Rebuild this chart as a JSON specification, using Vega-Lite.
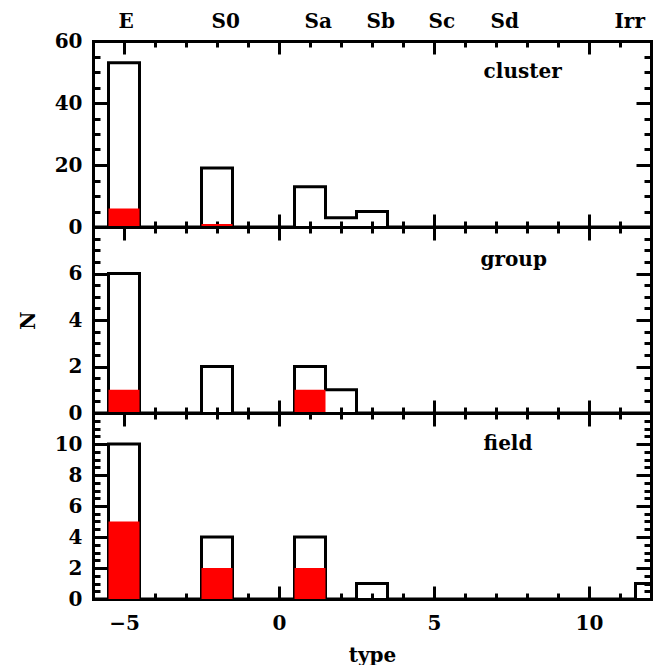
{
  "$schema": "https://vega.github.io/schema/vega-lite/v6.json",
  "background": "white",
  "padding": {"left": 18, "top": 11, "right": 5, "bottom": 0},
  "spacing": 0,
  "bounds": "flush",
  "config": {
    "view": {"stroke": null},
    "axis": {
      "domainColor": "black", "domainWidth": 3, "domainCap": "square",
      "tickColor": "black", "tickWidth": 3, "grid": false, "ticks": true,
      "labelFont": "DejaVu Serif", "labelFontWeight": "bold", "labelFontSize": 20, "labelColor": "black",
      "titleFont": "DejaVu Serif", "titleFontWeight": "bold", "titleFontSize": 20, "titleColor": "black",
      "labelOverlap": false, "labelFlush": false, "zindex": 1
    }
  },
  "datasets": {
    "cluster": [
      {"type": -6, "n": 0, "red": 0}, {"type": -5, "n": 53, "red": 6}, {"type": -4, "n": 0, "red": 0},
      {"type": -3, "n": 0, "red": 0}, {"type": -2, "n": 19, "red": 1}, {"type": -1, "n": 0, "red": 0},
      {"type": 0, "n": 0, "red": 0}, {"type": 1, "n": 13, "red": 0}, {"type": 2, "n": 3, "red": 0},
      {"type": 3, "n": 5, "red": 0}, {"type": 4, "n": 0, "red": 0}, {"type": 5, "n": 0, "red": 0},
      {"type": 6, "n": 0, "red": 0}, {"type": 7, "n": 0, "red": 0}, {"type": 8, "n": 0, "red": 0},
      {"type": 9, "n": 0, "red": 0}, {"type": 10, "n": 0, "red": 0}, {"type": 11, "n": 0, "red": 0},
      {"type": 12, "n": 0, "red": 0}
    ],
    "group": [
      {"type": -6, "n": 0, "red": 0}, {"type": -5, "n": 6, "red": 1}, {"type": -4, "n": 0, "red": 0},
      {"type": -3, "n": 0, "red": 0}, {"type": -2, "n": 2, "red": 0}, {"type": -1, "n": 0, "red": 0},
      {"type": 0, "n": 0, "red": 0}, {"type": 1, "n": 2, "red": 1}, {"type": 2, "n": 1, "red": 0},
      {"type": 3, "n": 0, "red": 0}, {"type": 4, "n": 0, "red": 0}, {"type": 5, "n": 0, "red": 0},
      {"type": 6, "n": 0, "red": 0}, {"type": 7, "n": 0, "red": 0}, {"type": 8, "n": 0, "red": 0},
      {"type": 9, "n": 0, "red": 0}, {"type": 10, "n": 0, "red": 0}, {"type": 11, "n": 0, "red": 0},
      {"type": 12, "n": 0, "red": 0}
    ],
    "field": [
      {"type": -6, "n": 0, "red": 0}, {"type": -5, "n": 10, "red": 5}, {"type": -4, "n": 0, "red": 0},
      {"type": -3, "n": 0, "red": 0}, {"type": -2, "n": 4, "red": 2}, {"type": -1, "n": 0, "red": 0},
      {"type": 0, "n": 0, "red": 0}, {"type": 1, "n": 4, "red": 2}, {"type": 2, "n": 0, "red": 0},
      {"type": 3, "n": 1, "red": 0}, {"type": 4, "n": 0, "red": 0}, {"type": 5, "n": 0, "red": 0},
      {"type": 6, "n": 0, "red": 0}, {"type": 7, "n": 0, "red": 0}, {"type": 8, "n": 0, "red": 0},
      {"type": 9, "n": 0, "red": 0}, {"type": 10, "n": 0, "red": 0}, {"type": 11, "n": 0, "red": 0},
      {"type": 12, "n": 1, "red": 0}
    ]
  },
  "vconcat": [
    {
      "width": 558, "height": 186,
      "data": {"name": "cluster"},
      "layer": [
        {
          "mark": {"type": "line", "interpolate": "step", "color": "black", "strokeWidth": 3, "clip": true},
          "encoding": {
            "x": {"field": "type", "type": "quantitative", "scale": {"domain": [-6, 12], "nice": false, "zero": false},
              "axis": {"orient": "bottom", "values": [-6,-5,-4,-3,-2,-1,0,1,2,3,4,5,6,7,8,9,10,11,12],
                "tickSize": {"condition": {"test": "datum.value % 5 === 0", "value": -13}, "value": -6},
                "labels": false, "title": null}},
            "y": {"field": "n", "type": "quantitative", "scale": {"domain": [0, 60], "nice": false},
              "axis": {"orient": "left", "values": [0,5,10,15,20,25,30,35,40,45,50,55,60],
                "tickSize": {"condition": {"test": "datum.value % 20 === 0", "value": -15}, "value": -7},
                "labelExpr": "datum.value % 20 === 0 ? format(datum.value, 'd') : ''", "labelPadding": 26, "labelBaseline": "middle", "title": null}}
          }
        },
        {
          "mark": {"type": "area", "interpolate": "step", "color": "#ff0000", "clip": true},
          "encoding": {
            "x": {"field": "type", "type": "quantitative",
              "axis": {"orient": "top", "values": [-6,-5,-4,-3,-2,-1,0,1,2,3,4,5,6,7,8,9,10,11,12],
                "tickSize": {"condition": {"test": "datum.value % 5 === 0", "value": -13}, "value": -6},
                "labelExpr": "datum.value === -5 ? 'E' : datum.value === -2 ? 'S0' : datum.value === 1 ? 'Sa' : datum.value === 3 ? 'Sb' : datum.value === 5 ? 'Sc' : datum.value === 7 ? 'Sd' : datum.value === 11 ? 'Irr' : ''",
                "labelAlign": "left", "labelOffset": -6, "labelBaseline": "bottom",
                "labelPadding": {"condition": {"test": "datum.value % 5 === 0", "value": 23}, "value": 16},
                "title": null}},
            "y": {"field": "red", "type": "quantitative",
              "axis": {"orient": "right", "values": [0,5,10,15,20,25,30,35,40,45,50,55,60],
                "tickSize": {"condition": {"test": "datum.value % 20 === 0", "value": -15}, "value": -7},
                "labels": false, "title": null}}
          }
        },
        {
          "data": {"values": [{"label": "cluster"}]},
          "mark": {"type": "text", "align": "left", "baseline": "middle", "font": "DejaVu Serif", "fontWeight": "bold", "fontSize": 20, "color": "black"},
          "encoding": {
            "text": {"field": "label"},
            "x": {"datum": 6.6, "axis": null},
            "y": {"datum": 50, "axis": null}
          }
        }
      ]
    },
    {
      "width": 558, "height": 186,
      "data": {"name": "group"},
      "layer": [
        {
          "mark": {"type": "line", "interpolate": "step", "color": "black", "strokeWidth": 3, "clip": true},
          "encoding": {
            "x": {"field": "type", "type": "quantitative", "scale": {"domain": [-6, 12], "nice": false, "zero": false},
              "axis": {"orient": "bottom", "values": [-6,-5,-4,-3,-2,-1,0,1,2,3,4,5,6,7,8,9,10,11,12],
                "tickSize": {"condition": {"test": "datum.value % 5 === 0", "value": -13}, "value": -6},
                "labels": false, "title": null}},
            "y": {"field": "n", "type": "quantitative", "scale": {"domain": [0, 8], "nice": false},
              "axis": {"orient": "left", "values": [0,0.5,1,1.5,2,2.5,3,3.5,4,4.5,5,5.5,6,6.5,7,7.5,8],
                "tickSize": {"condition": {"test": "datum.value % 2 === 0", "value": -15}, "value": -7},
                "labelExpr": "datum.value % 2 === 0 && datum.value < 8 ? format(datum.value, 'd') : ''", "labelPadding": 26, "labelBaseline": "middle",
                "title": "N", "titlePadding": 30}}
          }
        },
        {
          "mark": {"type": "area", "interpolate": "step", "color": "#ff0000", "clip": true},
          "encoding": {
            "x": {"field": "type", "type": "quantitative",
              "axis": {"orient": "top", "values": [-6,-5,-4,-3,-2,-1,0,1,2,3,4,5,6,7,8,9,10,11,12],
                "tickSize": {"condition": {"test": "datum.value % 5 === 0", "value": -13}, "value": -6},
                "labels": false, "title": null}},
            "y": {"field": "red", "type": "quantitative",
              "axis": {"orient": "right", "values": [0,0.5,1,1.5,2,2.5,3,3.5,4,4.5,5,5.5,6,6.5,7,7.5,8],
                "tickSize": {"condition": {"test": "datum.value % 2 === 0", "value": -15}, "value": -7},
                "labels": false, "title": null}}
          }
        },
        {
          "data": {"values": [{"label": "group"}]},
          "mark": {"type": "text", "align": "left", "baseline": "middle", "font": "DejaVu Serif", "fontWeight": "bold", "fontSize": 20, "color": "black"},
          "encoding": {
            "text": {"field": "label"},
            "x": {"datum": 6.5, "axis": null},
            "y": {"datum": 6.6, "axis": null}
          }
        }
      ]
    },
    {
      "width": 558, "height": 186,
      "data": {"name": "field"},
      "layer": [
        {
          "mark": {"type": "line", "interpolate": "step", "color": "black", "strokeWidth": 3, "clip": true},
          "encoding": {
            "x": {"field": "type", "type": "quantitative", "scale": {"domain": [-6, 12], "nice": false, "zero": false},
              "axis": {"orient": "bottom", "values": [-6,-5,-4,-3,-2,-1,0,1,2,3,4,5,6,7,8,9,10,11,12],
                "tickSize": {"condition": {"test": "datum.value % 5 === 0", "value": -13}, "value": -6},
                "labelExpr": "datum.value % 5 === 0 ? datum.label : ''", "labelPadding": 27, "labelBaseline": "top",
                "title": "type", "titlePadding": 5}},
            "y": {"field": "n", "type": "quantitative", "scale": {"domain": [0, 12], "nice": false},
              "axis": {"orient": "left", "values": [0,0.5,1,1.5,2,2.5,3,3.5,4,4.5,5,5.5,6,6.5,7,7.5,8,8.5,9,9.5,10,10.5,11,11.5,12],
                "tickSize": {"condition": {"test": "datum.value % 2 === 0", "value": -15}, "value": -7},
                "labelExpr": "datum.value % 2 === 0 && datum.value < 12 ? format(datum.value, 'd') : ''", "labelPadding": 26, "labelBaseline": "middle", "title": null}}
          }
        },
        {
          "mark": {"type": "area", "interpolate": "step", "color": "#ff0000", "clip": true},
          "encoding": {
            "x": {"field": "type", "type": "quantitative",
              "axis": {"orient": "top", "values": [-6,-5,-4,-3,-2,-1,0,1,2,3,4,5,6,7,8,9,10,11,12],
                "tickSize": {"condition": {"test": "datum.value % 5 === 0", "value": -13}, "value": -6},
                "labels": false, "title": null}},
            "y": {"field": "red", "type": "quantitative",
              "axis": {"orient": "right", "values": [0,0.5,1,1.5,2,2.5,3,3.5,4,4.5,5,5.5,6,6.5,7,7.5,8,8.5,9,9.5,10,10.5,11,11.5,12],
                "tickSize": {"condition": {"test": "datum.value % 2 === 0", "value": -15}, "value": -7},
                "labels": false, "title": null}}
          }
        },
        {
          "data": {"values": [{"label": "field"}]},
          "mark": {"type": "text", "align": "left", "baseline": "middle", "font": "DejaVu Serif", "fontWeight": "bold", "fontSize": 20, "color": "black"},
          "encoding": {
            "text": {"field": "label"},
            "x": {"datum": 6.6, "axis": null},
            "y": {"datum": 10, "axis": null}
          }
        }
      ]
    }
  ]
}
